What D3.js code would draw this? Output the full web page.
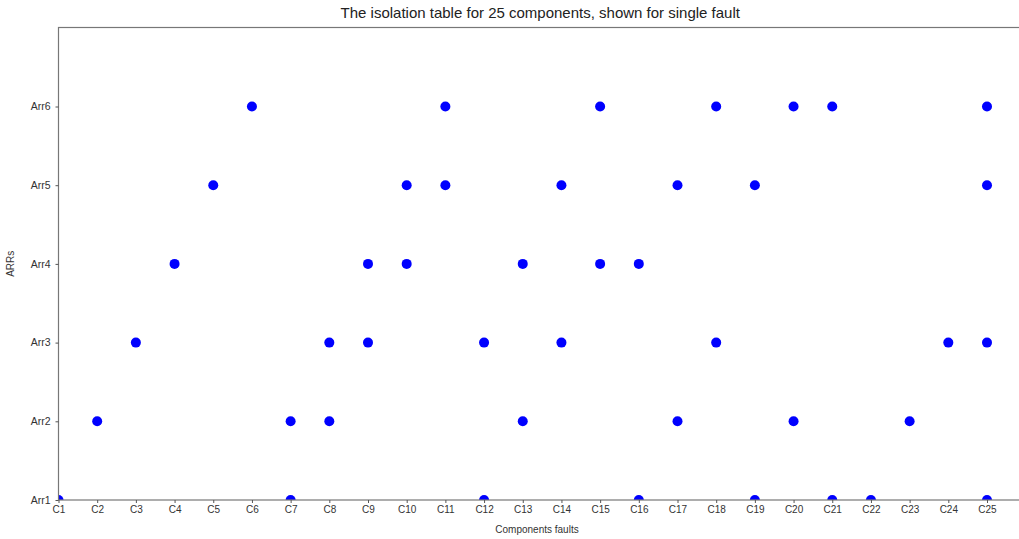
<!DOCTYPE html>
<html>
<head>
<meta charset="utf-8">
<script src="https://cdn.jsdelivr.net/npm/d3@7"></script>
<style>
  body { margin: 0; background: #fff; }
  svg { display: block; font-family: "Liberation Sans", Arial, sans-serif; }
</style>
</head>
<body>
<div id="chart"></div>
<script>
// Composants (axe X) et ARRs (axe Y)
const components = d3.range(1, 26).map(i => "C" + i);
const arrs = ["Arr1", "Arr2", "Arr3", "Arr4", "Arr5", "Arr6"];

// Composants sensibles pour chaque ARR
const arr1Faults = ["C1", "C7", "C12", "C16", "C19", "C21", "C22", "C25"];
const arr2Faults = ["C2", "C7", "C8", "C13", "C17", "C20", "C23"];
const arr3Faults = ["C3", "C8", "C9", "C12", "C14", "C18", "C24", "C25"];
const arr4Faults = ["C4", "C9", "C10", "C13", "C15", "C16"];
const arr5Faults = ["C5", "C10", "C11", "C14", "C17", "C19", "C25"];
const arr6Faults = ["C6", "C11", "C15", "C18", "C20", "C21", "C25"];

const faultLists = [arr1Faults, arr2Faults, arr3Faults, arr4Faults, arr5Faults, arr6Faults];
const points = [];
faultLists.forEach((list, i) => list.forEach(c => points.push({ c: c, arr: arrs[i] })));

const width = 1019, height = 539;
const margin = { top: 27.5, right: -3, bottom: 39, left: 58.5 };

const svg = d3.select("#chart").append("svg")
    .attr("width", width)
    .attr("height", height);

// Échelles
const xScale = d3.scalePoint()
    .domain(components)
    .range([margin.left, 987]);

const yIndex = d3.scaleLinear()
    .domain([0, 5])
    .range([height - margin.bottom, 106.5]);
const yScale = a => yIndex(arrs.indexOf(a));

const plotRight = width - margin.right;

svg.append("clipPath").attr("id", "clip")
    .append("rect")
    .attr("x", margin.left)
    .attr("y", margin.top)
    .attr("width", plotRight - margin.left)
    .attr("height", height - margin.bottom - margin.top);

// Points
svg.append("g")
    .attr("clip-path", "url(#clip)")
    .selectAll("circle")
    .data(points)
    .join("circle")
    .attr("cx", d => xScale(d.c))
    .attr("cy", d => yScale(d.arr))
    .attr("r", 5)
    .attr("fill", "#0000ff");

// Cadre
svg.append("rect")
    .attr("x", margin.left)
    .attr("y", margin.top)
    .attr("width", plotRight - margin.left)
    .attr("height", height - margin.bottom - margin.top)
    .attr("fill", "none")
    .attr("stroke", "#777")
    .attr("stroke-width", 1.2);

// Axe X
const xAxis = svg.append("g")
    .attr("transform", `translate(0,${height - margin.bottom})`)
    .call(d3.axisBottom(xScale).tickSize(3).tickPadding(3));
xAxis.select(".domain").remove();
xAxis.selectAll("line").attr("stroke", "#555");
xAxis.selectAll("text").attr("fill", "#333").style("font-size", "10px");

// Axe Y
const yAxis = svg.append("g")
    .attr("transform", `translate(${margin.left},0)`)
    .call(d3.axisLeft(yIndex).ticks(6).tickValues(d3.range(6))
        .tickFormat(i => arrs[i]).tickSize(3).tickPadding(5));
yAxis.select(".domain").remove();
yAxis.selectAll("line").attr("stroke", "#555");
yAxis.selectAll("text").attr("fill", "#333").style("font-size", "10.5px");

// Titres
svg.append("text")
    .attr("x", (margin.left + plotRight) / 2)
    .attr("y", 18)
    .attr("text-anchor", "middle")
    .attr("fill", "#222")
    .style("font-size", "15px")
    .text("The isolation table for 25 components, shown for single fault");

svg.append("text")
    .attr("x", 537)
    .attr("y", 533)
    .attr("text-anchor", "middle")
    .attr("fill", "#333")
    .style("font-size", "10px")
    .text("Components faults");

svg.append("text")
    .attr("transform", `translate(14,${(margin.top + height - margin.bottom) / 2}) rotate(-90)`)
    .attr("text-anchor", "middle")
    .attr("fill", "#333")
    .style("font-size", "10px")
    .text("ARRs");
</script>
</body>
</html>
